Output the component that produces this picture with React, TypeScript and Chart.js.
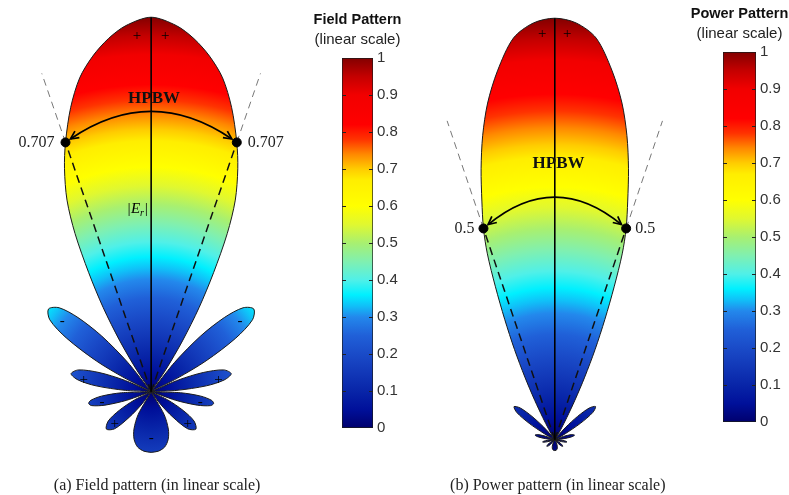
import React, { useEffect, useRef } from 'react';
import { Chart, registerables } from 'chart.js';

Chart.register(...registerables);

// ---------------- data (angle from boresight in degrees, normalized radius) ----------------
const FIELD_ANGLES = [-180, -173, -166, -160, -155, -150, -146, -143, -139, -135, -129.5, -124, -120, -116, -112, -109, -106, -103, -100.5, -98, -95, -92, -89, -87, -84, -81, -77.5, -73.5, -70, -67, -64.5, -63, -61, -58, -55, -51.5, -48, -45, -42, -39, -36, -34, -32, -30, -28, -26, -24, -21.5, -19.2, -16, -13, -10, -7, -4, 0, 4, 7, 10, 13, 16, 19.2, 21.5, 24, 26, 28, 30, 32, 34, 36, 39, 42, 45, 48, 51.5, 55, 58, 61, 63, 64.5, 67, 70, 73.5, 77.5, 81, 84, 87, 89, 92, 95, 98, 100.5, 103, 106, 109, 112, 116, 120, 124, 129.5, 135, 139, 143, 146, 150, 155, 160, 166, 173, 180];
const FIELD_R = [0.162, 0.16, 0.152, 0.135, 0.11, 0.07, 0, 0.04, 0.09, 0.14, 0.157, 0.14, 0.1, 0.05, 0, 0.07, 0.13, 0.165, 0.172, 0.165, 0.135, 0.08, 0, 0.07, 0.15, 0.2, 0.222, 0.205, 0.15, 0.08, 0, 0.08, 0.17, 0.27, 0.335, 0.355, 0.335, 0.28, 0.2, 0.1, 0, 0.07, 0.16, 0.26, 0.36, 0.47, 0.56, 0.64, 0.705, 0.79, 0.86, 0.91, 0.95, 0.98, 1.0, 0.98, 0.95, 0.91, 0.86, 0.79, 0.705, 0.64, 0.56, 0.47, 0.36, 0.26, 0.16, 0.07, 0, 0.1, 0.2, 0.28, 0.335, 0.355, 0.335, 0.27, 0.17, 0.08, 0, 0.08, 0.15, 0.205, 0.222, 0.2, 0.15, 0.07, 0, 0.08, 0.135, 0.165, 0.172, 0.165, 0.13, 0.07, 0, 0.05, 0.1, 0.14, 0.157, 0.14, 0.09, 0.04, 0, 0.07, 0.11, 0.135, 0.152, 0.16, 0.162];

const POWER_ANGLES = [-180, -173, -166, -160, -155, -150, -146, -143, -139, -135, -129.5, -124, -120, -116, -112, -109, -106, -103, -100.5, -98, -95, -92, -89, -87, -84, -81, -77.5, -73.5, -70, -67, -64.5, -63, -61, -58, -55, -51.5, -48, -45, -42, -39, -36, -33.5, -31, -29, -27.5, -26, -24.5, -23, -21.6, -20.3, -19, -17.3, -15.5, -13.6, -11.5, -9, -6, -3, 0, 3, 6, 9, 11.5, 13.6, 15.5, 17.3, 19, 20.3, 21.6, 23, 24.5, 26, 27.5, 29, 31, 33.5, 36, 39, 42, 45, 48, 51.5, 55, 58, 61, 63, 64.5, 67, 70, 73.5, 77.5, 81, 84, 87, 89, 92, 95, 98, 100.5, 103, 106, 109, 112, 116, 120, 124, 129.5, 135, 139, 143, 146, 150, 155, 160, 166, 173, 180];
const POWER_R = [0.026, 0.0256, 0.023, 0.018, 0.012, 0.005, 0, 0.0016, 0.008, 0.02, 0.025, 0.02, 0.01, 0.0025, 0, 0.005, 0.017, 0.027, 0.03, 0.027, 0.018, 0.0064, 0, 0.005, 0.0225, 0.04, 0.049, 0.042, 0.0225, 0.0064, 0, 0.006, 0.029, 0.073, 0.112, 0.126, 0.112, 0.078, 0.04, 0.01, 0, 0.008, 0.028, 0.06, 0.105, 0.165, 0.235, 0.31, 0.39, 0.47, 0.53, 0.593, 0.667, 0.742, 0.815, 0.886, 0.958, 0.99, 1.0, 0.99, 0.958, 0.886, 0.815, 0.742, 0.667, 0.593, 0.53, 0.47, 0.39, 0.31, 0.235, 0.165, 0.105, 0.06, 0.028, 0.008, 0, 0.01, 0.04, 0.078, 0.112, 0.126, 0.112, 0.073, 0.029, 0.006, 0, 0.0064, 0.0225, 0.042, 0.049, 0.04, 0.0225, 0.005, 0, 0.0064, 0.018, 0.027, 0.03, 0.027, 0.017, 0.005, 0, 0.0025, 0.01, 0.02, 0.025, 0.02, 0.008, 0.0016, 0, 0.005, 0.012, 0.018, 0.023, 0.0256, 0.026];

// half-power points (angle, radius) and labels
const FIELD_HP_ANGLE = 19.2;
const FIELD_HP_R = 0.705;
const FIELD_HP_LABEL = '0.707';
const POWER_HP_ANGLE = 19;
const POWER_HP_R = 0.53;
const POWER_HP_LABEL = '0.5';

// lobe sign markers
const FIELD_SIGN_ANGLES = [-2.3, 2.3, -52, 52, -80.5, 80.5, -102, 102, -131, 131, 180];
const FIELD_SIGN_R = [0.95, 0.95, 0.305, 0.305, 0.185, 0.185, 0.136, 0.136, 0.131, 0.131, 0.123];
const FIELD_SIGN_TEXT = ['+', '+', '-', '-', '+', '+', '-', '-', '+', '+', '-'];
const POWER_SIGN_ANGLES = [-1.8, 1.8];
const POWER_SIGN_R = [0.962, 0.962];
const POWER_SIGN_TEXT = ['+', '+'];

// colorbar tick labels
const COLORBAR_TICKS = [0, 0.1, 0.2, 0.3, 0.4, 0.5, 0.6, 0.7, 0.8, 0.9, 1];

// colormap (style)
const CMAP_POS = [0, 0.05, 0.1, 0.15, 0.2, 0.25, 0.3, 0.33, 0.36, 0.4, 0.45, 0.5, 0.55, 0.6, 0.67, 0.7, 0.74, 0.78, 0.82, 0.9, 0.95, 1];
const CMAP_COL = ['#00006e', '#00109a', '#0825a8', '#1238b8', '#1a4bc8', '#2060d8', '#2388ec', '#10c0f8', '#00f0ff', '#50f0e8', '#80f0b0', '#a8f070', '#e0f830', '#ffff00', '#ffee00', '#ffcc00', '#ff8800', '#ff3300', '#ff0000', '#f20000', '#c40000', '#830000'];

const SERIF = '"Liberation Serif", "Times New Roman", serif';
const SANS = '"Liberation Sans", Arial, Helvetica, sans-serif';

const DEG = Math.PI / 180;
const polar = (a: number, r: number) => ({ x: r * Math.sin(a * DEG), y: r * Math.cos(a * DEG) });

type PatternSpec = {
  angles: number[];
  radii: number[];
  canvasLeft: number;
  width: number;
  height: number;
  originX: number;
  originY: number;
  unit: number;
  hpAngle: number;
  hpR: number;
  hpLabel: string;
  hpLabelGap: number;
  dashEndR: number;
  arcApexR: number;
  hpbwPos: { x: number; y: number };
  signAngles: number[];
  signR: number[];
  signText: string[];
  caption: string;
  captionDX: number;
  erLabel: { x: number; y: number } | null;
};

const FIELD_SPEC: PatternSpec = {
  angles: FIELD_ANGLES,
  radii: FIELD_R,
  canvasLeft: 0,
  width: 310,
  height: 495,
  originX: 151,
  originY: 395,
  unit: 383,
  hpAngle: FIELD_HP_ANGLE,
  hpR: FIELD_HP_R,
  hpLabel: FIELD_HP_LABEL,
  hpLabelGap: 11,
  dashEndR: 0.9,
  arcApexR: 0.744,
  hpbwPos: { x: 0.008, y: 0.783 },
  signAngles: FIELD_SIGN_ANGLES,
  signR: FIELD_SIGN_R,
  signText: FIELD_SIGN_TEXT,
  caption: '(a) Field pattern (in linear scale)',
  captionDX: 6,
  erLabel: { x: -0.037, y: 0.488 },
};

const POWER_SPEC: PatternSpec = {
  angles: POWER_ANGLES,
  radii: POWER_R,
  canvasLeft: 415,
  width: 270,
  height: 495,
  originX: 140,
  originY: 444,
  unit: 431,
  hpAngle: POWER_HP_ANGLE,
  hpR: POWER_HP_R,
  hpLabel: POWER_HP_LABEL,
  hpLabelGap: 9,
  dashEndR: 0.8,
  arcApexR: 0.571,
  hpbwPos: { x: 0.009, y: 0.654 },
  signAngles: POWER_SIGN_ANGLES,
  signR: POWER_SIGN_R,
  signText: POWER_SIGN_TEXT,
  caption: '(b) Power pattern (in linear scale)',
  captionDX: 3,
  erLabel: null,
};

type CbSpec = {
  left: number;
  width: number;
  height: number;
  barLeft: number;
  barRight: number;
  barTop: number;
  barBottom: number;
  title: string;
  subtitle: string;
};

const FIELD_CB: CbSpec = { left: 300, width: 120, height: 495, barLeft: 342, barRight: 373, barTop: 58, barBottom: 428, title: 'Field Pattern', subtitle: '(linear scale)' };
const POWER_CB: CbSpec = { left: 685, width: 104, height: 495, barLeft: 723, barRight: 756, barTop: 52, barBottom: 422, title: 'Power Pattern', subtitle: '(linear scale)' };

// ---------------- helpers ----------------
const radialFill = (c: any) => {
  const chart = c.chart;
  const { chartArea, scales, ctx } = chart;
  if (!chartArea || !scales.x || !scales.y) return 'rgba(0,0,0,0)';
  const cx = scales.x.getPixelForValue(0);
  const cy = scales.y.getPixelForValue(0);
  const R = Math.abs(scales.y.getPixelForValue(1) - cy);
  const g = ctx.createRadialGradient(cx, cy, 0, cx, cy, R);
  CMAP_POS.forEach((p, i) => g.addColorStop(p, CMAP_COL[i]));
  return g;
};

const linearFill = (c: any) => {
  const chart = c.chart;
  const { chartArea, ctx } = chart;
  if (!chartArea) return '#888';
  const g = ctx.createLinearGradient(0, chartArea.bottom, 0, chartArea.top);
  CMAP_POS.forEach((p, i) => g.addColorStop(p, CMAP_COL[i]));
  return g;
};

const makeAnnotPlugin = (s: PatternSpec) => ({
  id: 'patternAnnot',
  afterDatasetsDraw(chart: any) {
    const { ctx, scales } = chart;
    const P = (p: { x: number; y: number }) => ({ x: scales.x.getPixelForValue(p.x), y: scales.y.getPixelForValue(p.y) });
    const L = P(polar(-s.hpAngle, s.hpR));
    const R = P(polar(s.hpAngle, s.hpR));
    const A = P({ x: 0, y: s.arcApexR });
    const C = { x: 2 * A.x - (L.x + R.x) / 2, y: 2 * A.y - (L.y + R.y) / 2 };
    const tipOf = (E: { x: number; y: number }) => {
      const dx = C.x - E.x;
      const dy = C.y - E.y;
      const d = Math.hypot(dx, dy);
      return { x: E.x + (dx / d) * 6, y: E.y + (dy / d) * 6, ux: dx / d, uy: dy / d };
    };
    const tL = tipOf(L);
    const tR = tipOf(R);
    ctx.save();
    // HPBW arc
    ctx.strokeStyle = '#000';
    ctx.lineWidth = 1.7;
    ctx.beginPath();
    ctx.moveTo(tL.x, tL.y);
    ctx.quadraticCurveTo(C.x, C.y, tR.x, tR.y);
    ctx.stroke();
    [tL, tR].forEach((t) => {
      const base = Math.atan2(t.uy, t.ux);
      const a1 = base - 0.45;
      const a2 = base + 0.45;
      ctx.beginPath();
      ctx.moveTo(t.x + Math.cos(a1) * 9, t.y + Math.sin(a1) * 9);
      ctx.lineTo(t.x, t.y);
      ctx.lineTo(t.x + Math.cos(a2) * 9, t.y + Math.sin(a2) * 9);
      ctx.stroke();
    });
    // HPBW label
    ctx.fillStyle = '#111';
    ctx.textBaseline = 'middle';
    ctx.textAlign = 'center';
    ctx.font = 'bold 17px ' + SERIF;
    const H = P(s.hpbwPos);
    ctx.fillText('HPBW', H.x, H.y);
    // half-power value labels
    ctx.font = '16px ' + SERIF;
    ctx.fillStyle = '#222';
    ctx.textAlign = 'right';
    ctx.fillText(s.hpLabel, L.x - s.hpLabelGap, L.y);
    ctx.textAlign = 'left';
    ctx.fillText(s.hpLabel, R.x + s.hpLabelGap, R.y);
    // lobe signs
    ctx.fillStyle = '#000';
    ctx.textAlign = 'center';
    ctx.font = '15px ' + SERIF;
    s.signAngles.forEach((a, i) => {
      const q = P(polar(a, s.signR[i]));
      ctx.fillText(s.signText[i], q.x, q.y);
    });
    // |E_r| label
    if (s.erLabel) {
      const q = P(s.erLabel);
      ctx.textAlign = 'left';
      ctx.font = 'italic 15px ' + SERIF;
      const w1 = ctx.measureText('|E').width;
      ctx.font = 'italic 10px ' + SERIF;
      const w2 = ctx.measureText('r').width;
      ctx.font = 'italic 15px ' + SERIF;
      const w3 = ctx.measureText('|').width;
      const x0 = q.x - (w1 + w2 + w3) / 2;
      ctx.fillText('|E', x0, q.y);
      ctx.font = 'italic 10px ' + SERIF;
      ctx.fillText('r', x0 + w1, q.y + 4);
      ctx.font = 'italic 15px ' + SERIF;
      ctx.fillText('|', x0 + w1 + w2, q.y);
    }
    // caption
    ctx.fillStyle = '#222';
    ctx.textAlign = 'center';
    ctx.font = '16px ' + SERIF;
    const o = P({ x: 0, y: 0 });
    ctx.fillText(s.caption, o.x + s.captionDX, 486);
    ctx.restore();
  },
});

const patternConfig = (s: PatternSpec): any => {
  const pts = s.angles.map((a, i) => polar(a, s.radii[i]));
  const hpL = polar(-s.hpAngle, s.hpR);
  const hpR = polar(s.hpAngle, s.hpR);
  const endL = polar(-s.hpAngle, s.dashEndR);
  const endR = polar(s.hpAngle, s.dashEndR);
  const origin = { x: 0, y: 0 };
  const lineBase = { showLine: true, pointRadius: 0, fill: false, tension: 0 };
  return {
    type: 'scatter',
    data: {
      datasets: [
        { ...lineBase, data: [origin, { x: 0, y: 1 }], borderColor: '#000', borderWidth: 1.6, order: 1 },
        { ...lineBase, data: [origin, hpL], borderColor: '#111', borderWidth: 1.5, borderDash: [8, 5], order: 1 },
        { ...lineBase, data: [origin, hpR], borderColor: '#111', borderWidth: 1.5, borderDash: [8, 5], order: 1 },
        { ...lineBase, data: [hpL, endL], borderColor: '#777', borderWidth: 1, borderDash: [7, 5], order: 1 },
        { ...lineBase, data: [hpR, endR], borderColor: '#777', borderWidth: 1, borderDash: [7, 5], order: 1 },
        { data: [hpL, hpR], showLine: false, pointRadius: 4.5, pointBackgroundColor: '#000', pointBorderColor: '#000', order: 0 },
        {
          data: pts,
          showLine: true,
          fill: 'shape',
          backgroundColor: radialFill,
          borderColor: '#1b1b1b',
          borderWidth: 1,
          pointRadius: 0,
          tension: 0.3,
          order: 5,
        },
      ],
    },
    options: {
      responsive: false,
      maintainAspectRatio: false,
      animation: false,
      events: [],
      layout: { padding: 0 },
      plugins: { legend: { display: false }, tooltip: { enabled: false }, title: { display: false } },
      scales: {
        x: { type: 'linear', display: false, min: -s.originX / s.unit, max: (s.width - s.originX) / s.unit },
        y: { type: 'linear', display: false, min: -(s.height - s.originY) / s.unit, max: s.originY / s.unit },
      },
    },
    plugins: [makeAnnotPlugin(s)],
  };
};

const makeCbPlugin = (s: CbSpec) => ({
  id: 'cbExtras',
  afterDraw(chart: any) {
    const { ctx, chartArea, scales } = chart;
    const cx = (chartArea.left + chartArea.right) / 2;
    ctx.save();
    ctx.fillStyle = '#111';
    ctx.textAlign = 'center';
    ctx.textBaseline = 'middle';
    ctx.font = 'bold 14.5px ' + SANS;
    ctx.fillText(s.title, cx, chartArea.top - 38);
    ctx.font = '15px ' + SANS;
    ctx.fillStyle = '#222';
    ctx.fillText(s.subtitle, cx, chartArea.top - 18);
    ctx.strokeStyle = '#222';
    ctx.lineWidth = 1;
    COLORBAR_TICKS.forEach((v) => {
      if (v <= 0 || v >= 1) return;
      const y = Math.round(scales.y.getPixelForValue(v)) + 0.5;
      ctx.beginPath();
      ctx.moveTo(chartArea.left, y);
      ctx.lineTo(chartArea.left + 4, y);
      ctx.moveTo(chartArea.right - 4, y);
      ctx.lineTo(chartArea.right, y);
      ctx.stroke();
    });
    ctx.restore();
  },
});

const cbConfig = (s: CbSpec): any => ({
  type: 'bar',
  data: {
    labels: [''],
    datasets: [
      {
        data: [1],
        backgroundColor: linearFill,
        borderColor: '#1a1a1a',
        borderWidth: 1,
        borderSkipped: false,
        barPercentage: 1,
        categoryPercentage: 1,
      },
    ],
  },
  options: {
    responsive: false,
    maintainAspectRatio: false,
    animation: false,
    events: [],
    layout: { padding: { left: s.barLeft - s.left, right: 0, top: s.barTop, bottom: s.height - s.barBottom } },
    plugins: { legend: { display: false }, tooltip: { enabled: false }, title: { display: false } },
    scales: {
      x: { display: false },
      y: {
        min: 0,
        max: 1,
        position: 'right',
        afterBuildTicks: (sc: any) => {
          sc.ticks = COLORBAR_TICKS.map((v) => ({ value: v }));
        },
        afterFit: (sc: any) => {
          sc.width = s.left + s.width - s.barRight;
        },
        ticks: { color: '#333', padding: 4, font: { family: SANS, size: 15 }, callback: (v: number) => String(v) },
        grid: { display: false, drawTicks: false },
        border: { display: false },
      },
    },
  },
  plugins: [makeCbPlugin(s)],
});

function ChartCanvas({ left, top, width, height, build }: { left: number; top: number; width: number; height: number; build: () => any }) {
  const ref = useRef<HTMLCanvasElement>(null);
  useEffect(() => {
    if (!ref.current) return;
    const chart = new Chart(ref.current, build());
    return () => chart.destroy();
  }, []);
  return <canvas ref={ref} width={width} height={height} style={{ position: 'absolute', left, top, width, height }} />;
}

export default function App() {
  return (
    <div style={{ position: 'absolute', left: 0, top: 0, width: 789, height: 495, background: '#fff', overflow: 'hidden' }}>
      <ChartCanvas left={FIELD_SPEC.canvasLeft} top={0} width={FIELD_SPEC.width} height={FIELD_SPEC.height} build={() => patternConfig(FIELD_SPEC)} />
      <ChartCanvas left={FIELD_CB.left} top={0} width={FIELD_CB.width} height={FIELD_CB.height} build={() => cbConfig(FIELD_CB)} />
      <ChartCanvas left={POWER_SPEC.canvasLeft} top={0} width={POWER_SPEC.width} height={POWER_SPEC.height} build={() => patternConfig(POWER_SPEC)} />
      <ChartCanvas left={POWER_CB.left} top={0} width={POWER_CB.width} height={POWER_CB.height} build={() => cbConfig(POWER_CB)} />
    </div>
  );
}
